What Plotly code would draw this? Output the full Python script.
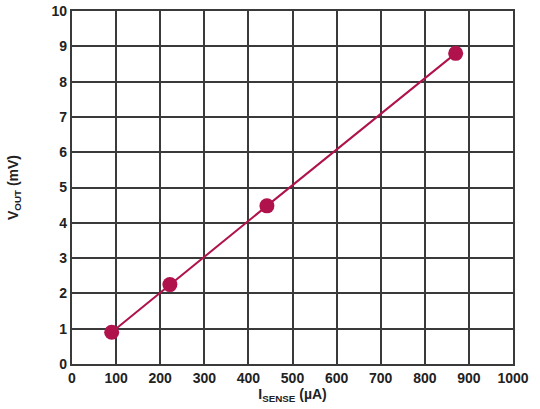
import plotly.graph_objects as go

# measured points
i_sense = [90, 222, 442, 870]     # µA
v_out = [0.9, 2.25, 4.48, 8.8]     # mV

x_ticks = [0, 100, 200, 300, 400, 500, 600, 700, 800, 900, 1000]
y_ticks = [0, 1, 2, 3, 4, 5, 6, 7, 8, 9, 10]

red = "#b0124b"
grid = "#3a3a3a"
font_family = "Arial, Liberation Sans, sans-serif"

fig = go.Figure()
fig.add_trace(go.Scatter(
    x=i_sense, y=v_out,
    mode="lines+markers",
    line=dict(color=red, width=2),
    marker=dict(color=red, size=15),
    showlegend=False,
))

axis_common = dict(
    showgrid=True, gridcolor=grid, gridwidth=1.6,
    showline=True, linecolor=grid, linewidth=2.2, mirror=True,
    zeroline=False, ticks="", automargin=False,
    tickfont=dict(family=font_family, size=14, color="#222", weight="bold"),
)

fig.update_xaxes(
    range=[0, 1000], tickvals=x_ticks,
    title=dict(text="I<sub>SENSE</sub> (µA)", standoff=2,
               font=dict(family=font_family, size=14, color="#222", weight="bold")),
    **axis_common,
)
fig.update_yaxes(
    range=[0, 10], tickvals=y_ticks,
    title=dict(text="V<sub>OUT</sub> (mV)", standoff=30,
               font=dict(family=font_family, size=14, color="#222", weight="bold")),
    **axis_common,
)
fig.update_layout(
    width=540, height=409,
    margin=dict(l=72, r=27, t=11, b=45),
    plot_bgcolor="white", paper_bgcolor="white",
    font=dict(family=font_family, size=14, color="#222"),
)

fig.write_html("out.html", config={"displayModeBar": False},
               post_script="document.body.style.margin='0';")
